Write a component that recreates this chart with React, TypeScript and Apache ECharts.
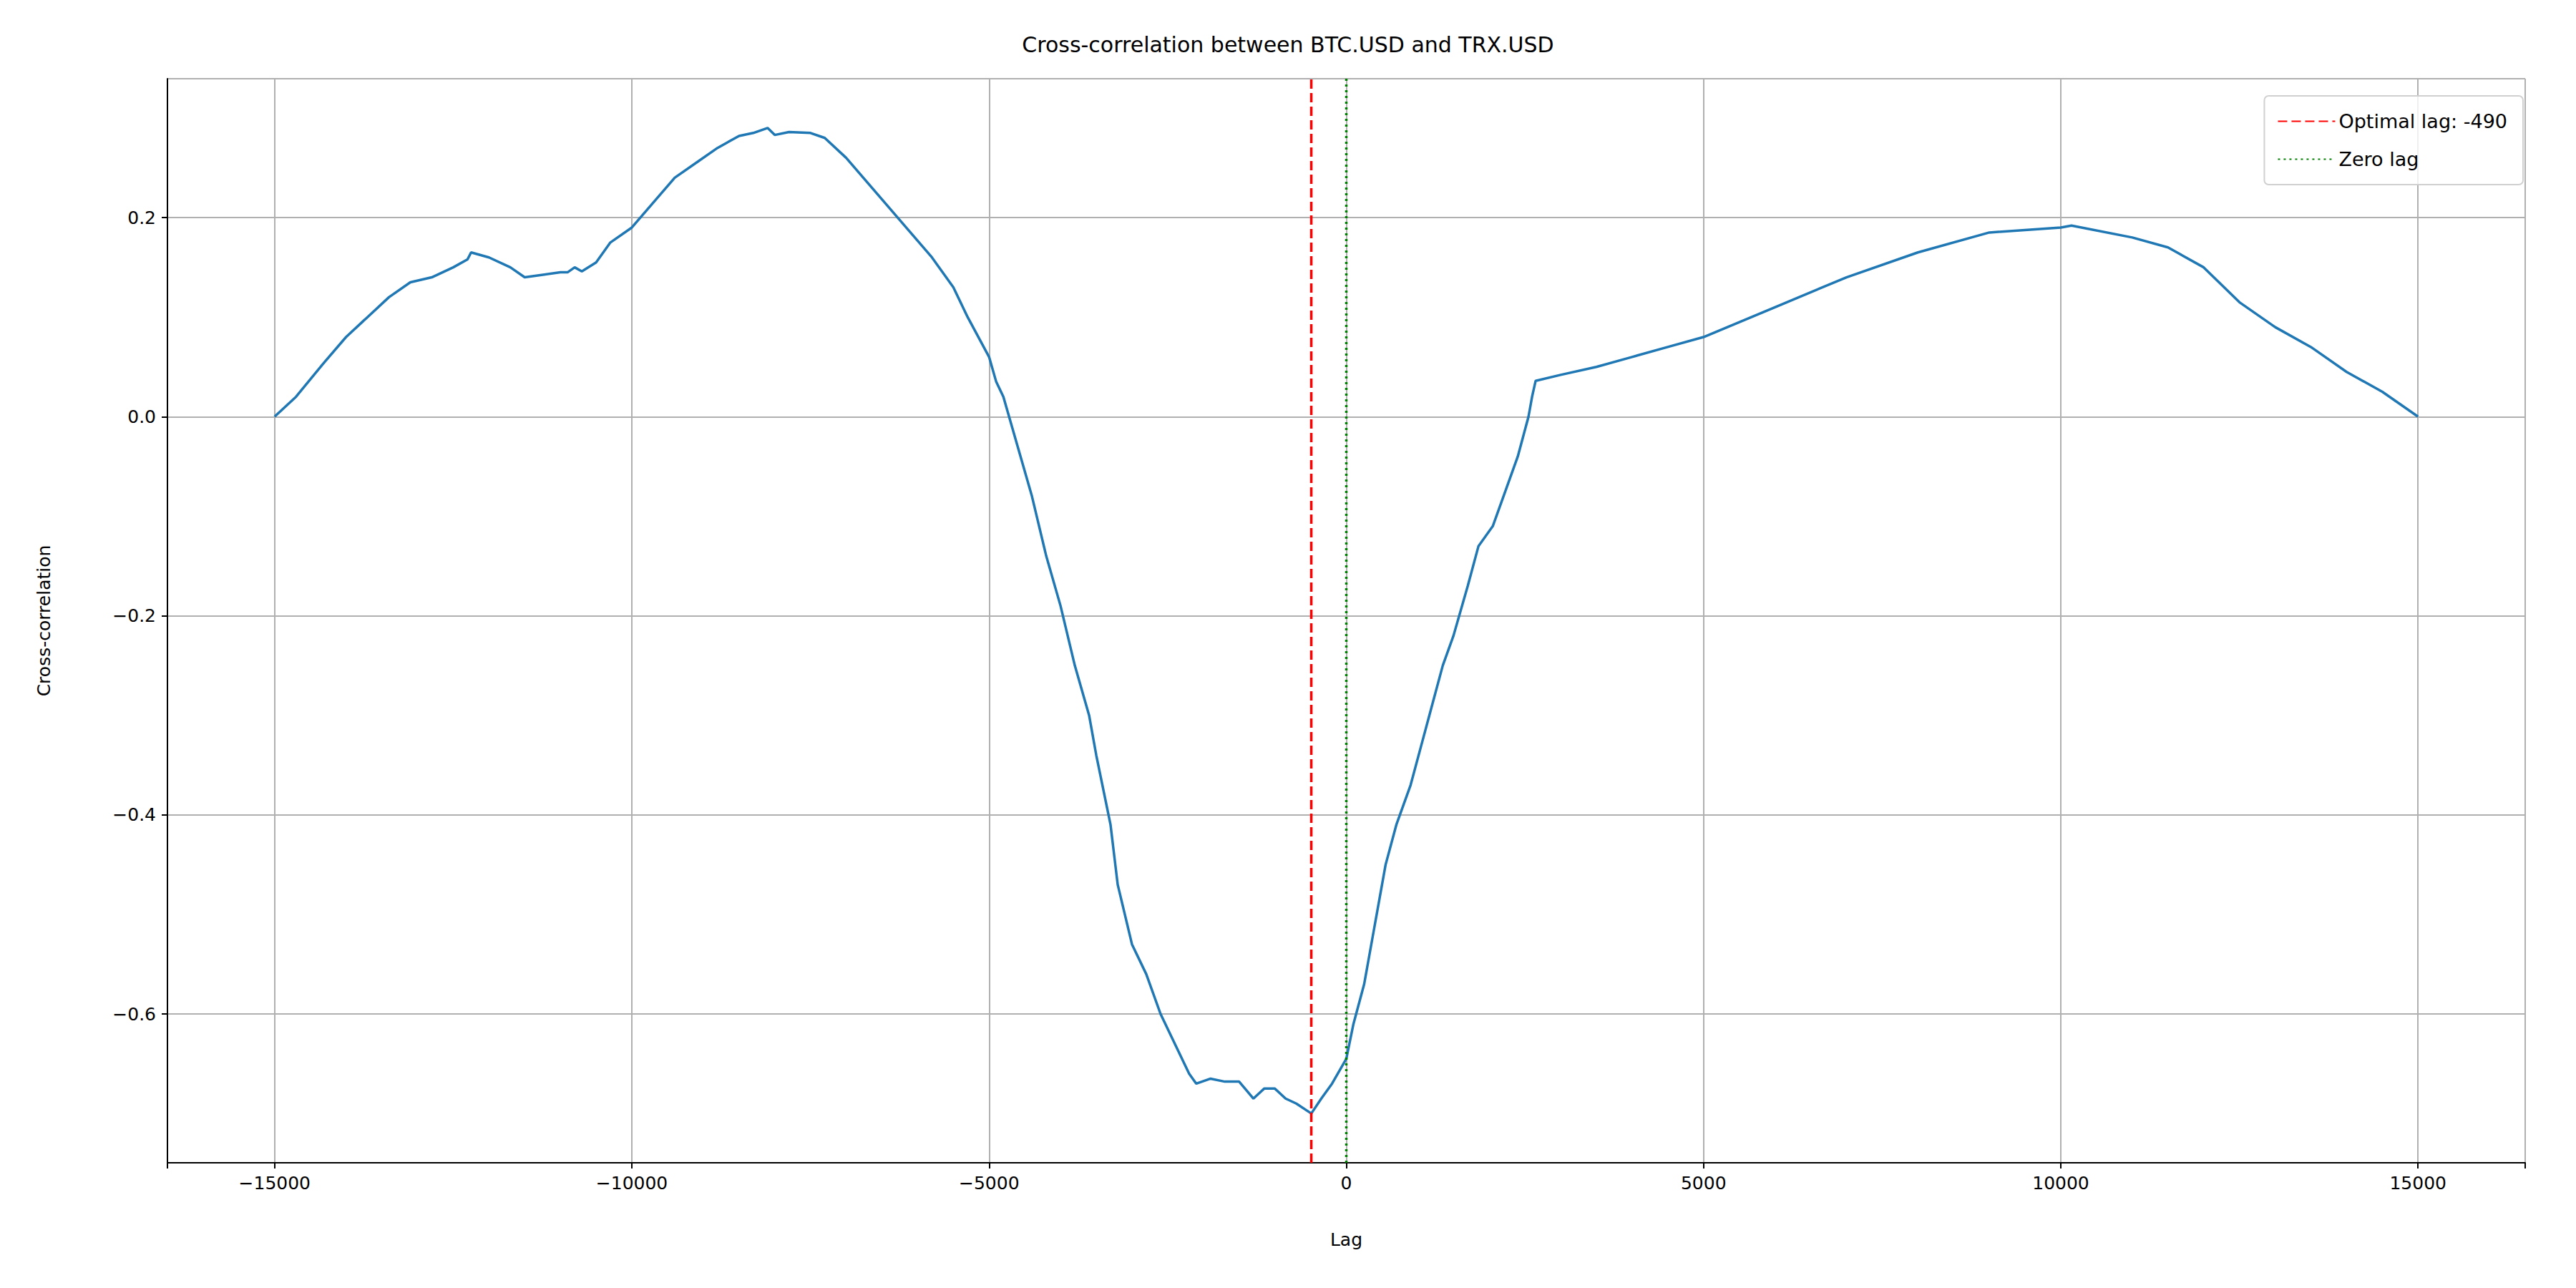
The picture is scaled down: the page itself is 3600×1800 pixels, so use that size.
import { useEffect, useRef } from 'react';
import * as echarts from 'echarts';

const lags = [
  -15000, -14700, -14300, -14000, -13700, -13400, -13100, -12800, -12500, -12300, -12250, -12000,
  -11700, -11500, -11300, -11000, -10900, -10800, -10700, -10500, -10300, -10000, -9700, -9400,
  -9100, -8800, -8500, -8300, -8100, -8000, -7800, -7500, -7300, -7000, -6700, -6400, -6100,
  -5800, -5500, -5300, -5000, -4900, -4800, -4600, -4400, -4200, -4000, -3800, -3600, -3500,
  -3300, -3200, -3000, -2800, -2600, -2400, -2200, -2100, -1900, -1700, -1500, -1300, -1150,
  -1000, -850, -700, -490, -350, -200, 0, 100, 250, 400, 550, 700, 900, 1050, 1200, 1350, 1500,
  1700, 1850, 2050, 2200, 2400, 2550, 2600, 2650, 3000, 3500, 4000, 4500, 5000, 6000, 7000,
  8000, 9000, 10000, 10150, 11000, 11500, 12000, 12500, 13000, 13500, 14000, 14500, 15000,
];
const corr = [
  0, 0.02, 0.055, 0.08, 0.1, 0.12, 0.135, 0.14, 0.15, 0.158, 0.165, 0.16,
  0.15, 0.14, 0.142, 0.145, 0.145, 0.15, 0.146, 0.155, 0.175, 0.19, 0.215, 0.24,
  0.255, 0.27, 0.282, 0.285, 0.29, 0.283, 0.286, 0.285, 0.28, 0.26, 0.235, 0.21, 0.185,
  0.16, 0.13, 0.1, 0.06, 0.035, 0.02, -0.03, -0.08, -0.14, -0.19, -0.25, -0.3, -0.34,
  -0.41, -0.47, -0.53, -0.56, -0.6, -0.63, -0.66, -0.67, -0.665, -0.668, -0.668, -0.685, -0.675,
  -0.675, -0.685, -0.69, -0.7, -0.685, -0.67, -0.645, -0.61, -0.57, -0.51, -0.45, -0.41, -0.37,
  -0.33, -0.29, -0.25, -0.22, -0.17, -0.13, -0.11, -0.08, -0.04, 0.0, 0.02, 0.036, 0.042, 0.05,
  0.06, 0.07, 0.08, 0.11, 0.14, 0.165, 0.185, 0.19, 0.192, 0.18, 0.17, 0.15, 0.115, 0.09,
  0.07, 0.045, 0.025, 0,
];
const optimalLag = -490;
const xMin = -16500;
const xMax = 16500;
const yMin = -0.7495;
const yMax = 0.3395;

const font = 'DejaVu Sans';
const minus = (s: string) => s.replace('-', '\u2212');

export default function App() {
  const ref = useRef<HTMLDivElement>(null);

  useEffect(() => {
    document.body.style.margin = '0';
    if (!ref.current) return;
    const chart = echarts.init(ref.current, undefined, { renderer: 'svg' });
    const gridLine = { show: true, lineStyle: { color: '#b0b0b0', width: 2 } };
    chart.setOption({
      animation: false,
      backgroundColor: '#fff',
      title: {
        text: 'Cross-correlation between BTC.USD and TRX.USD',
        left: 'center',
        top: 42,
        textStyle: { fontFamily: font, fontSize: 30, fontWeight: 'normal', color: '#000' },
      },
      legend: {
        right: 74,
        top: 134,
        orient: 'vertical',
        itemGap: 26,
        itemWidth: 80,
        itemHeight: 22,
        padding: [22, 22, 22, 18],
        borderColor: '#d0d0d0',
        borderWidth: 2,
        borderRadius: 6,
        backgroundColor: 'rgba(255,255,255,0.8)',
        itemStyle: { opacity: 0 },
        textStyle: { fontFamily: font, fontSize: 27, color: '#000' },
        data: ['Optimal lag: -490', 'Zero lag'],
      },
      grid: { left: 234, right: 71, top: 110, bottom: 175 },
      xAxis: {
        type: 'value',
        min: xMin,
        max: xMax,
        name: 'Lag',
        nameLocation: 'middle',
        nameGap: 95,
        nameTextStyle: { fontFamily: font, fontSize: 25, color: '#000' },
        axisLine: { show: true, onZero: false, lineStyle: { color: '#000', width: 2 } },
        axisTick: { show: true, length: 8, lineStyle: { color: '#000', width: 2 } },
        axisLabel: {
          fontFamily: font, fontSize: 25, color: '#000', margin: 16,
          formatter: (v: number) => (v % 5000 === 0 ? minus(String(v)) : ''),
        },
        splitLine: gridLine,
      },
      yAxis: {
        type: 'value',
        min: yMin,
        max: yMax,
        splitNumber: 5,
        name: 'Cross-correlation',
        nameLocation: 'middle',
        nameGap: 160,
        nameTextStyle: { fontFamily: font, fontSize: 25, color: '#000' },
        axisLine: { show: true, onZero: false, lineStyle: { color: '#000', width: 2 } },
        axisTick: { show: true, length: 8, lineStyle: { color: '#000', width: 2 } },
        axisLabel: {
          fontFamily: font, fontSize: 25, color: '#000', margin: 16,
          showMinLabel: false,
          showMaxLabel: false,
          formatter: (v: number) => {
            const r = Math.round(v * 10) / 10;
            return Math.abs(v - r) < 1e-6 ? minus(r.toFixed(1)) : '';
          },
        },
        splitLine: gridLine,
      },
      series: [
        {
          name: 'xcorr',
          type: 'line',
          symbol: 'none',
          data: lags.map((l, i) => [l, corr[i]]),
          lineStyle: { color: '#1f77b4', width: 3.5 },
          itemStyle: { color: '#1f77b4' },
        },
        {
          name: 'Optimal lag: -490',
          type: 'line',
          symbol: 'none',
          data: [[optimalLag, yMin], [optimalLag, yMax]],
          lineStyle: { color: '#ff0000', width: 3.5, type: [13, 6] },
          itemStyle: { color: '#ff0000' },
        },
        {
          name: 'Zero lag',
          type: 'line',
          symbol: 'none',
          data: [[0, yMin], [0, yMax]],
          lineStyle: { color: '#008000', width: 3.5, type: [3, 5] },
          itemStyle: { color: '#008000' },
        },
      ],
    });
    return () => chart.dispose();
  }, []);

  return <div ref={ref} style={{ width: 3600, height: 1800 }} />;
}
